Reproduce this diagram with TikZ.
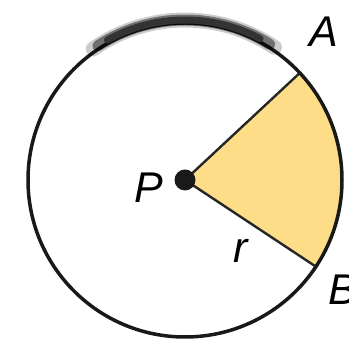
\documentclass[tikz,border=0pt]{standalone}
\usepackage{fontspec}
\setmainfont{Liberation Sans}
\usetikzlibrary{calc}
\definecolor{sectorfill}{RGB}{253,221,135}
\tikzset{ptlabel/.style={font=\fontsize{43}{43}\selectfont\itshape, inner sep=0pt}}
\begin{document}
\begin{tikzpicture}[x=1pt, y=1pt]
        \useasboundingbox(0,0)rectangle(349,339);
        \coordinate(P)at(185,159);
        \coordinate(A)at($(P)+(43:156)$);
        \coordinate(B)at($(P)+(-33.5:156)$);
        % sector
        \path[fill = sectorfill](P)--(A)arc[start angle=43, end angle=-33.5, radius=156]--cycle;
        \path[draw, line width=2.4, draw=black!85](A)--(P)--(B);
        % circle
        \path[draw, line width=3.5, draw=black!90](P)circle[radius=157];
        % smudge at the top
        \path[draw, line width=15, black, opacity=0.2, line cap=round]($(P)+(125:160)$)arc[start angle=125, end angle=56, radius=160];
        \path[draw, line width=11, black, opacity=0.45, line cap=round]($(P)+(123:160)$)arc[start angle=123, end angle=58, radius=160];
        \path[draw, line width=7, black!80, line cap=round]($(P)+(119:160)$)arc[start angle=119, end angle=62, radius=160];
        % centre
        \path[fill, black!90](P)circle[radius=10.5];
        % labels
        \node[ptlabel](lP)at(149,151){P};
        \node[ptlabel](lA)at(324,307){A};
        \node[ptlabel](lB)at(343,49){B};
        \node[ptlabel](lr)at(241,88){r};
    \end{tikzpicture}
\end{document}
